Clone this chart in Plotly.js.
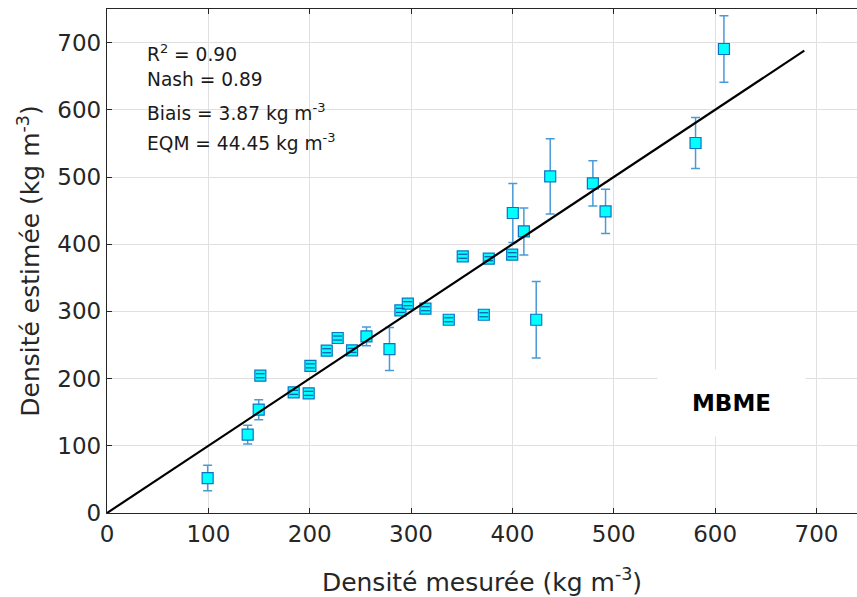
<!DOCTYPE html>
<html>
<head>
<meta charset="utf-8">
<script src="https://cdn.plot.ly/plotly-3.0.1.min.js"></script>
<style>html,body{margin:0;padding:0;background:#fff;}#chart{width:857px;height:597px;}</style>
</head>
<body>
<div id="chart"></div>
<script>
// Measured density (kg m-3)
var measured = [99.3, 138.8, 149.7, 151.3, 184.2, 199, 200.7, 216.8, 227.6, 241.8,
                256, 278.7, 289.5, 296.8, 314.2, 337.2, 351, 371.8, 376.7, 399.8,
                400.4, 411.3, 423.5, 437.3, 479.4, 491.9, 580.7, 608.7];
// Estimated density (kg m-3)
var estimated = [52, 116.5, 153.7, 204.3, 179.5, 178, 219, 241.5, 260.4, 242,
                 262.8, 244, 301.5, 311.5, 304, 287.6, 382, 295, 378.4, 384.4,
                 446.4, 419, 287.6, 501, 490.5, 448.8, 550.6, 690.5];
// Error (std) on estimated density
var errorEst = [19, 14, 15, 3, 3, 3, 3, 3, 3, 3,
                14, 32, 3, 3, 3, 3, 3, 3, 3, 3,
                44, 35, 57, 56, 33.5, 33, 38, 49.5];
// 1:1 line
var lineX = [0, 688];
var lineY = [0, 688];
var xTicks = [0, 100, 200, 300, 400, 500, 600, 700];
var yTicks = [0, 100, 200, 300, 400, 500, 600, 700];
var statsLines = ['R<sup>2</sup> = 0.90', 'Nash = 0.89', 'Biais = 3.87 kg m<sup>-3</sup>', 'EQM = 44.45 kg m<sup>-3</sup>'];
var statsY = [684, 645, 596, 552];
var modelLabel = 'MBME';

// small-error points: their error caps show inside the markers as "="
var smallX = [], capTop = [], capBot = [];
for (var i = 0; i < measured.length; i++) {
  if (errorEst[i] < 6) {
    smallX.push(measured[i]);
    capTop.push(estimated[i] + errorEst[i]);
    capBot.push(estimated[i] - errorEst[i]);
  }
}

var FONT = 'DejaVu Sans, Arial, sans-serif';
var capMarker = {symbol: 'line-ew', size: 6.3, color: '#0b62ad', line: {color: '#0b62ad', width: 1.3}};
var traces = [
  {
    x: measured, y: estimated, type: 'scatter', mode: 'markers',
    marker: {symbol: 'square', size: 11, color: '#00FFFF', line: {color: '#0a74c4', width: 1.2}},
    error_y: {type: 'data', array: errorEst, visible: true, color: '#4a9ad6', thickness: 1.5, width: 4.5},
    showlegend: false, hoverinfo: 'x+y'
  },
  {x: smallX, y: capTop, type: 'scatter', mode: 'markers', marker: capMarker, showlegend: false, hoverinfo: 'skip'},
  {x: smallX, y: capBot, type: 'scatter', mode: 'markers', marker: capMarker, showlegend: false, hoverinfo: 'skip'},
  {
    x: lineX, y: lineY, type: 'scatter', mode: 'lines',
    line: {color: '#000000', width: 2.2}, showlegend: false, hoverinfo: 'skip'
  }
];

var annotations = statsLines.map(function (t, k) {
  return {text: t, xref: 'x', yref: 'y', x: 37, y: statsY[k], xanchor: 'left', yanchor: 'middle',
          showarrow: false, font: {family: FONT, size: 18.6, color: '#1a1a1a'}};
});
annotations.push({
  text: '<b>' + modelLabel + '</b>', xref: 'x', yref: 'y', x: 615.8, y: 164,
  xanchor: 'center', yanchor: 'middle', showarrow: false,
  bgcolor: '#ffffff', borderpad: 0, width: 147, height: 66,
  font: {family: FONT, size: 23, color: '#000000'}
});

var axisCommon = {
  ticks: 'inside', ticklen: 5, tickwidth: 1, tickcolor: '#262626',
  showline: true, linecolor: '#262626', linewidth: 1.2,
  showgrid: true, gridcolor: '#e0e0e0', gridwidth: 1, zeroline: false,
  tickfont: {family: FONT, size: 23, color: '#262626'}
};

var layout = {
  width: 857, height: 597,
  margin: {l: 107, r: 0, t: 9, b: 84},
  paper_bgcolor: '#ffffff', plot_bgcolor: '#ffffff',
  xaxis: Object.assign({}, axisCommon, {
    range: [0, 740], tickvals: xTicks, ticktext: xTicks.map(String), mirror: 'ticks',
    title: {text: 'Densité mesurée (kg m<sup>-3</sup>)', font: {family: FONT, size: 25, color: '#262626'}, standoff: 36}
  }),
  yaxis: Object.assign({}, axisCommon, {
    range: [0, 750], tickvals: yTicks, ticktext: yTicks.map(String), mirror: false,
    title: {text: 'Densité estimée (kg m<sup>-3</sup>)', font: {family: FONT, size: 25, color: '#262626'}, standoff: 10}
  }),
  annotations: annotations,
  showlegend: false
};

Plotly.newPlot('chart', traces, layout, {displayModeBar: false, staticPlot: true});
</script>
</body>
</html>
